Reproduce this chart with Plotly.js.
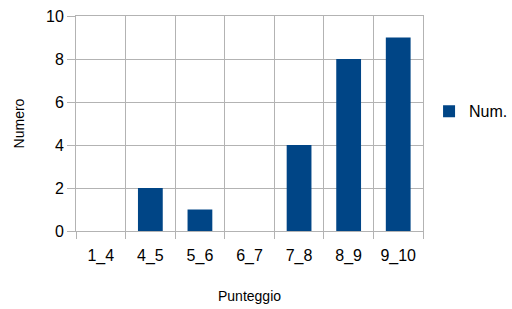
<!DOCTYPE html>
<html>
<head>
<meta charset="utf-8">
<script src="https://cdn.plot.ly/plotly-3.0.1.min.js"></script>
<style>html,body{margin:0;padding:0;background:#fff;}#chart{width:512px;height:309px;}</style>
</head>
<body>
<div id="chart"></div>
<script>
const categories = ["1_4", "4_5", "5_6", "6_7", "7_8", "8_9", "9_10"];
const numValues = [0, 2, 1, 0, 4, 8, 9];
const seriesName = "Num.";
const yTickValues = [0, 2, 4, 6, 8, 10];

const trace = {
  type: "bar",
  x: categories,
  y: numValues,
  name: seriesName,
  marker: {color: "#004586"},
  width: 0.5,
  showlegend: true
};

const layout = {
  width: 512,
  height: 309,
  margin: {l: 76, r: 89, t: 16, b: 78, pad: 0, autoexpand: false},
  paper_bgcolor: "#ffffff",
  plot_bgcolor: "#ffffff",
  font: {family: "Liberation Sans, Arial, sans-serif", color: "#000000", size: 16},
  showlegend: true,
  legend: {
    xref: "container", yref: "container",
    x: 0.838, y: 0.64, xanchor: "left", yanchor: "middle",
    font: {size: 16, color: "#000"},
    itemwidth: 30,
    tracegroupgap: 0
  },
  xaxis: {
    type: "category",
    tickson: "boundaries",
    ticks: "outside",
    ticklen: 7,
    tickcolor: "#b3b3b3",
    showgrid: true,
    gridcolor: "#b3b3b3",
    showline: true,
    linecolor: "#b3b3b3",
    mirror: true,
    tickfont: {size: 16},
    ticklabelstandoff: 10,
    automargin: false,
    title: {text: "Punteggio", font: {size: 14}, standoff: 26}
  },
  yaxis: {
    range: [0, 10],
    tickvals: yTickValues,
    ticks: "outside",
    ticklen: 8,
    tickcolor: "#b3b3b3",
    showgrid: true,
    gridcolor: "#b3b3b3",
    showline: true,
    linecolor: "#b3b3b3",
    mirror: true,
    zeroline: false,
    tickfont: {size: 16},
    automargin: false,
    title: {text: "Numero", font: {size: 14}, standoff: 18}
  },
  bargap: 0.5
};

Plotly.newPlot("chart", [trace], layout, {displayModeBar: false, staticPlot: true});
</script>
</body>
</html>
